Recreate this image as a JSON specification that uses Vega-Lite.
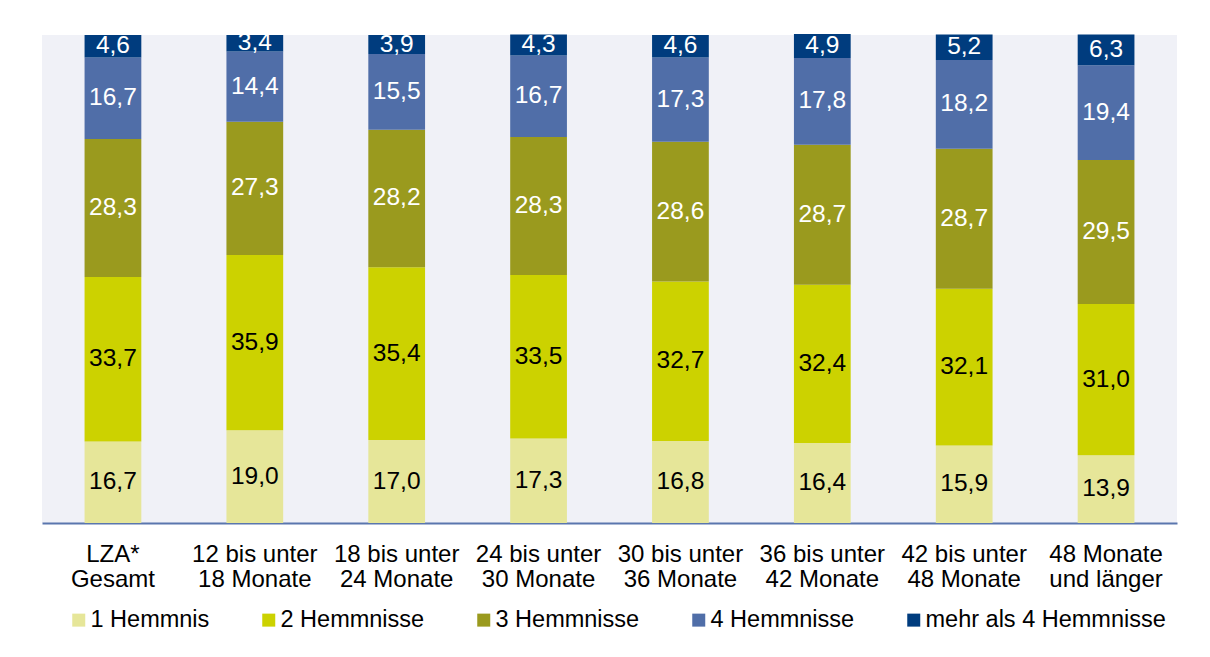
{
  "$schema": "https://vega.github.io/schema/vega-lite/v6.json",
  "width": 1135,
  "height": 488,
  "autosize": {"type": "none"},
  "padding": {"left": 42, "top": 35, "right": 33, "bottom": 134},
  "background": "white",
  "config": {
    "view": {"fill": "#F0F1F7", "stroke": null},
    "font": "Liberation Sans",
    "locale": {"number": {"decimal": ",", "thousands": ".", "grouping": [3], "currency": ["", " €"]}}
  },
  "data": {"values": [
    {"cat": "LZA*\nGesamt", "series": "1 Hemmnis", "idx": 1, "value": 16.7},
    {"cat": "LZA*\nGesamt", "series": "2 Hemmnisse", "idx": 2, "value": 33.7},
    {"cat": "LZA*\nGesamt", "series": "3 Hemmnisse", "idx": 3, "value": 28.3},
    {"cat": "LZA*\nGesamt", "series": "4 Hemmnisse", "idx": 4, "value": 16.7},
    {"cat": "LZA*\nGesamt", "series": "mehr als 4 Hemmnisse", "idx": 5, "value": 4.6},
    {"cat": "12 bis unter\n18 Monate", "series": "1 Hemmnis", "idx": 1, "value": 19.0},
    {"cat": "12 bis unter\n18 Monate", "series": "2 Hemmnisse", "idx": 2, "value": 35.9},
    {"cat": "12 bis unter\n18 Monate", "series": "3 Hemmnisse", "idx": 3, "value": 27.3},
    {"cat": "12 bis unter\n18 Monate", "series": "4 Hemmnisse", "idx": 4, "value": 14.4},
    {"cat": "12 bis unter\n18 Monate", "series": "mehr als 4 Hemmnisse", "idx": 5, "value": 3.4},
    {"cat": "18 bis unter\n24 Monate", "series": "1 Hemmnis", "idx": 1, "value": 17.0},
    {"cat": "18 bis unter\n24 Monate", "series": "2 Hemmnisse", "idx": 2, "value": 35.4},
    {"cat": "18 bis unter\n24 Monate", "series": "3 Hemmnisse", "idx": 3, "value": 28.2},
    {"cat": "18 bis unter\n24 Monate", "series": "4 Hemmnisse", "idx": 4, "value": 15.5},
    {"cat": "18 bis unter\n24 Monate", "series": "mehr als 4 Hemmnisse", "idx": 5, "value": 3.9},
    {"cat": "24 bis unter\n30 Monate", "series": "1 Hemmnis", "idx": 1, "value": 17.3},
    {"cat": "24 bis unter\n30 Monate", "series": "2 Hemmnisse", "idx": 2, "value": 33.5},
    {"cat": "24 bis unter\n30 Monate", "series": "3 Hemmnisse", "idx": 3, "value": 28.3},
    {"cat": "24 bis unter\n30 Monate", "series": "4 Hemmnisse", "idx": 4, "value": 16.7},
    {"cat": "24 bis unter\n30 Monate", "series": "mehr als 4 Hemmnisse", "idx": 5, "value": 4.3},
    {"cat": "30 bis unter\n36 Monate", "series": "1 Hemmnis", "idx": 1, "value": 16.8},
    {"cat": "30 bis unter\n36 Monate", "series": "2 Hemmnisse", "idx": 2, "value": 32.7},
    {"cat": "30 bis unter\n36 Monate", "series": "3 Hemmnisse", "idx": 3, "value": 28.6},
    {"cat": "30 bis unter\n36 Monate", "series": "4 Hemmnisse", "idx": 4, "value": 17.3},
    {"cat": "30 bis unter\n36 Monate", "series": "mehr als 4 Hemmnisse", "idx": 5, "value": 4.6},
    {"cat": "36 bis unter\n42 Monate", "series": "1 Hemmnis", "idx": 1, "value": 16.4},
    {"cat": "36 bis unter\n42 Monate", "series": "2 Hemmnisse", "idx": 2, "value": 32.4},
    {"cat": "36 bis unter\n42 Monate", "series": "3 Hemmnisse", "idx": 3, "value": 28.7},
    {"cat": "36 bis unter\n42 Monate", "series": "4 Hemmnisse", "idx": 4, "value": 17.8},
    {"cat": "36 bis unter\n42 Monate", "series": "mehr als 4 Hemmnisse", "idx": 5, "value": 4.9},
    {"cat": "42 bis unter\n48 Monate", "series": "1 Hemmnis", "idx": 1, "value": 15.9},
    {"cat": "42 bis unter\n48 Monate", "series": "2 Hemmnisse", "idx": 2, "value": 32.1},
    {"cat": "42 bis unter\n48 Monate", "series": "3 Hemmnisse", "idx": 3, "value": 28.7},
    {"cat": "42 bis unter\n48 Monate", "series": "4 Hemmnisse", "idx": 4, "value": 18.2},
    {"cat": "42 bis unter\n48 Monate", "series": "mehr als 4 Hemmnisse", "idx": 5, "value": 5.2},
    {"cat": "48 Monate\nund länger", "series": "1 Hemmnis", "idx": 1, "value": 13.9},
    {"cat": "48 Monate\nund länger", "series": "2 Hemmnisse", "idx": 2, "value": 31.0},
    {"cat": "48 Monate\nund länger", "series": "3 Hemmnisse", "idx": 3, "value": 29.5},
    {"cat": "48 Monate\nund länger", "series": "4 Hemmnisse", "idx": 4, "value": 19.4},
    {"cat": "48 Monate\nund länger", "series": "mehr als 4 Hemmnisse", "idx": 5, "value": 6.3}
  ]},
  "encoding": {
    "x": {
      "field": "cat", "type": "nominal", "sort": null,
      "scale": {"paddingInner": 0.6, "paddingOuter": 0.3},
      "axis": {
        "title": null, "labelAngle": 0, "ticks": false,
        "domainColor": "#5A76AE", "domainWidth": 2,
        "labelFontSize": 24, "labelColor": "black", "labelPadding": 19,
        "labelLineHeight": 25, "labelLimit": 300,
        "labelExpr": "split(datum.label, '\\n')"
      }
    }
  },
  "layer": [
    {
      "mark": {"type": "bar"},
      "encoding": {
        "y": {"field": "value", "type": "quantitative", "stack": "zero", "scale": {"domain": [0, 100], "nice": false}, "axis": null},
        "color": {
          "field": "series", "type": "nominal",
          "scale": {
            "domain": ["1 Hemmnis", "2 Hemmnisse", "3 Hemmnisse", "4 Hemmnisse", "mehr als 4 Hemmnisse"],
            "range": ["#E6E699", "#CCD200", "#9A9A1E", "#506EA8", "#003C7E"]
          },
          "legend": {
            "title": null, "orient": "none", "legendX": 25, "legendY": 573, "direction": "horizontal",
            "symbolType": "square", "symbolSize": 169, "symbolStrokeWidth": 0,
            "labelFontSize": 23.5, "labelColor": "black", "labelOffset": 0,
            "columnPadding": 47, "labelLimit": 400, "padding": 0
          }
        },
        "order": {"field": "idx", "type": "quantitative"}
      }
    },
    {
      "mark": {"type": "text", "fontSize": 24.5, "baseline": "middle"},
      "encoding": {
        "y": {"field": "value", "type": "quantitative", "stack": "zero", "bandPosition": 0.5},
        "text": {"field": "value", "type": "quantitative", "format": ".1f"},
        "color": {"condition": {"test": "datum.idx <= 2", "value": "black"}, "value": "white"},
        "order": {"field": "idx", "type": "quantitative"}
      }
    }
  ]
}
